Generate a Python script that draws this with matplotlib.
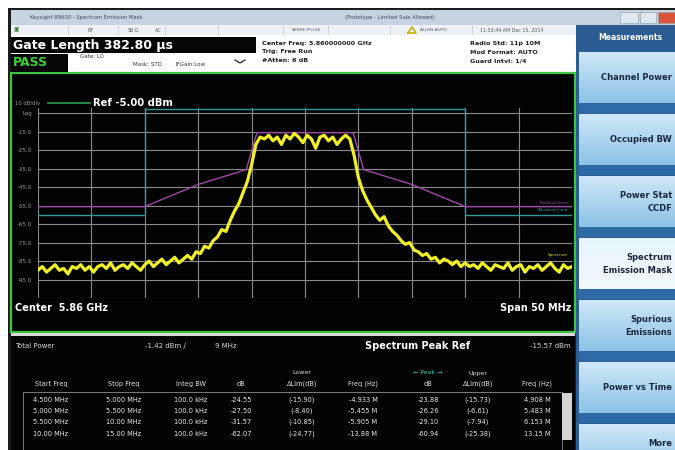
#!/usr/bin/env python3

import matplotlib; matplotlib.use('Agg')
import numpy as np
import matplotlib.pyplot as plt
from matplotlib.patches import Rectangle

# spectrum trace (dBm), one value every 0.4 MHz from -25 MHz to +25 MHz offset
trace_dbm = [
  -90, -88, -91, -89, -87, -90, -89, -92, -88, -89, -87, -90, -88,
  -91, -88, -87, -89, -86, -90, -88, -87, -89, -86, -88, -90, -87,
  -85, -88, -86, -84, -87, -85, -83, -86, -84, -82,
  -84, -80, -81, -77, -78, -74,
  -72, -68, -69, -63, -58,
  -54, -48, -42, -33,
  -22, -18,
  -19, -17, -20, -18, -22, -17, -19, -16, -18, -21,
  -17, -19, -24, -18, -17, -20, -18, -22, -19, -17,
  -19, -28,
  -40, -47, -52, -56,
  -60, -63, -61, -66, -69,
  -71, -74, -76, -75, -79, -80,
  -82, -81, -84, -83, -86, -84, -85, -87, -85, -88,
  -86, -88, -87, -89, -86, -88, -90, -87, -88, -89, -86, -90, -88,
  -87, -91, -88, -89, -87, -90, -88, -86, -89, -91, -87, -89, -88,
]
freq_offset = np.linspace(-25, 25, len(trace_dbm))

# limit lines
rel_freq = [-25, -15, -10, -5.5, -4.5, 4.5, 5.5, 10, 15, 25]
rel_dbm = [-55.6, -55.6, -43.6, -35.6, -15.6, -15.6, -35.6, -43.6, -55.6, -55.6]
abs_freq = [-25, -15, -15, 15, 15, 25]
abs_dbm = [-60, -60, -3, -3, -60, -60]

grid_levels = [-5, -15, -25, -35, -45, -55, -65, -75, -85, -95, -105]
grid_labels = ['Log', '-15.0', '-25.0', '-35.0', '-45.0', '-55.0', '-65.0',
               '-75.0', '-85.0', '-95.0', '']
grid_freqs = [-25, -20, -15, -10, -5, 0, 5, 10, 15, 20, 25]

# result table
start_freq = ['4.500 MHz', '5.000 MHz', '5.500 MHz', '10.00 MHz']
stop_freq = ['5.000 MHz', '5.500 MHz', '10.00 MHz', '15.00 MHz']
integ_bw = ['100.0 kHz', '100.0 kHz', '100.0 kHz', '100.0 kHz']
lower_db = [-24.55, -27.50, -31.57, -62.07]
lower_lim = [-15.90, -8.40, -10.85, -24.77]
lower_freq = ['-4.933 M', '-5.455 M', '-5.905 M', '-13.88 M']
upper_db = [-23.88, -26.26, -29.10, -60.94]
upper_lim = [-15.73, -6.61, -7.94, -25.38]
upper_freq = ['4.908 M', '5.483 M', '6.153 M', '13.15 M']

menu_labels = ['Channel Power', 'Occupied BW', 'Power Stat\nCCDF',
               'Spectrum\nEmission Mask', 'Spurious\nEmissions',
               'Power vs Time', 'More']

W, H = 675, 450
fig = plt.figure(figsize = [6.75, 4.5], dpi = 100)
fig.patch.set_facecolor('white')

# background canvas in pixel coordinates
bg = fig.add_axes([0, 0, 1, 1])
bg.set_xlim(0, W)
bg.set_ylim(H, 0)
bg.axis('off')

def box(x0, y0, x1, y1, fc, ec = 'none', lw = 0, z = 1):
  bg.add_patch(Rectangle((x0, y0), x1 - x0, y1 - y0, facecolor = fc,
                         edgecolor = ec, linewidth = lw, zorder = z))

def txt(x, y, s, size = 5, color = '#e0e0e0', weight = 'normal', ha = 'left', **kw):
  bg.text(x, y, s, fontsize = size, color = color, fontweight = weight,
          ha = ha, va = 'center', zorder = 5, **kw)

# screen frame
box(8, 8, W, H, '#1c1c1c')
# title bar and toolbar
box(11, 10, W, 25, '#c6d3e0')
txt(30, 17.5, 'Keysight 89600 - Spectrum Emission Mask', 3.8, '#3a4a6a')
txt(345, 17.5, '(Prototype - Limited Sale Allowed)', 3.8, '#3a4a6a')
box(620, 12, 638, 23, '#dfe7ef', '#8899aa', 0.4, 2)
box(640, 12, 656, 23, '#dfe7ef', '#8899aa', 0.4, 2)
box(658, 12, W, 23, '#d9543a', '#8899aa', 0.4, 2)
box(11, 25, 576, 35, '#eef2f6')
for xc in [68, 118, 165, 218, 283, 328, 390, 472]:
  bg.plot([xc, xc], [26, 34], color = '#b8c2cc', lw = 0.5, zorder = 2)
txt(14, 30, '\u25a3', 4, '#2a7a2a')
txt(88, 30, 'RF', 3.5, '#556')
txt(128, 30, 'SE:G', 3.5, '#556')
txt(155, 30, 'AC', 3.5, '#556')
txt(292, 30, 'SENSE:PULSE', 3.2, '#556')
bg.plot([408, 412, 416, 408], [33, 27, 33, 33], color = '#c8b000', lw = 1.2, zorder = 3)
txt(420, 30, 'ALIGN AUTO', 3.2, '#556')
txt(480, 30, '11:53:44 AM Dec 15, 2014', 3.4, '#556')

# header
box(11, 35, 576, 73, 'white')
box(11, 37, 256, 53, '#050505', z = 2)
txt(13, 45.5, 'Gate Length 382.80 \u00b5s', 9, 'white', 'bold')
box(11, 54, 68, 72, '#050505', z = 2)
txt(13, 63, 'PASS', 9, '#3ccf3c', 'bold')
txt(80, 57, 'Gate: LO', 4, '#333')
txt(133, 65, 'Mask: STD', 4, '#333')
txt(175, 65, 'IFGain:Low', 4, '#333')
bg.plot([235, 240, 245], [60, 63, 60], color = '#333', lw = 1, zorder = 3)
txt(262, 43, 'Center Freq: 5.860000000 GHz', 4.6, '#222', 'bold')
txt(262, 52, 'Trig: Free Run', 4.6, '#222', 'bold')
txt(262, 61, '#Atten: 6 dB', 4.6, '#222', 'bold')
txt(470, 43, 'Radio Std: 11p 10M', 4.6, '#222', 'bold')
txt(470, 52, 'Mod Format: AUTO', 4.6, '#222', 'bold')
txt(470, 61, 'Guard Intvl: 1/4', 4.6, '#222', 'bold')

# spectrum panel
box(11, 73, 575, 332, '#020202', '#3fc43f', 1.6, 1)
box(11, 333, 575, 336, '#d8d8d8')
txt(15, 103, '10 dB/div', 3.8, '#9a9a9a')
bg.plot([48, 90], [103, 103], color = '#2f9f4f', lw = 1.2, zorder = 3)
txt(93, 103, 'Ref -5.00 dBm', 7.2, 'white', 'bold')
txt(15, 308, 'Center  5.86 GHz', 7, 'white', 'bold')
txt(571, 308, 'Span 50 MHz', 7, 'white', 'bold', ha = 'right')

# result table
box(11, 336, 575, H, '#030303')
txt(15, 346, 'Total Power', 5, '#d8d8d8')
txt(145, 346, '-1.42 dBm /', 5, '#d8d8d8')
txt(215, 346, '9 MHz', 5, '#d8d8d8')
txt(365, 346, 'Spectrum Peak Ref', 7, 'white', 'bold')
txt(530, 346, '-15.57 dBm', 5, '#d8d8d8')
col_x = [51, 124, 191, 241, 302, 363, 428, 478, 537]
txt(302, 373, 'Lower', 4.5, '#d8d8d8', ha = 'center')
txt(428, 373, '\u2190 Peak \u2192', 4.5, '#3fc0c0', ha = 'center')
txt(478, 373, 'Upper', 4.5, '#d8d8d8', ha = 'center')
heads = ['Start Freq', 'Stop Freq', 'Integ BW', 'dB', '\u0394Lim(dB)',
         'Freq (Hz)', 'dB', '\u0394Lim(dB)', 'Freq (Hz)']
for x, h in zip(col_x, heads):
  txt(x, 384, h, 4.8, '#e0e0e0', ha = 'center')
box(23, 392, 562, H + 2, 'none', '#909090', 0.6, 2)
box(562, 393, 572, 440, '#d4d4d4', z = 2)
row_y = [400, 411, 422, 434]
for i, y in enumerate(row_y):
  cells = [start_freq[i], stop_freq[i], integ_bw[i], '%.2f' % lower_db[i],
           '(%.2f)' % lower_lim[i], lower_freq[i], '%.2f' % upper_db[i],
           '(%.2f)' % upper_lim[i], upper_freq[i]]
  for x, c in zip(col_x, cells):
    txt(x, y, c, 4.8, '#e8e8e8', ha = 'center')

# measurement menu
box(576, 25, W, H, '#2b5c92')
txt(598, 38, 'Measurements', 5.5, 'white', 'bold')
grad = np.linspace(0, 1, 50).reshape(-1, 1)
for k, label in enumerate(menu_labels):
  top = 52 + 62 * k
  cmap = plt.matplotlib.colors.LinearSegmentedColormap.from_list(
    'b', ['#e8f4fb', '#f2f8fc'] if k == 3 else ['#cfe8f7', '#8cc2e6'])
  bg.imshow(grad, extent = [579, W, top + 51, top], cmap = cmap,
            aspect = 'auto', zorder = 2)
  box(579, top + 51, W, top + 61, '#2e6aa6', z = 2)
  if top + 26 < H - 6:
    ty = top + 26
  else:
    ty = H - 7
  txt(672, ty, label, 6, '#1a2840', 'bold', ha = 'right',
      multialignment = 'right', linespacing = 1.5)

# spectrum axes: x span 50 MHz, y ref -5 dBm at 10 dB/div
ax = fig.add_axes([38 / W, 1 - 298 / H, 534 / W, (298 - 107.5) / H])
ax.set_facecolor('#020202')
for f in grid_freqs:
  ax.axvline(f, color = '#8a8a8a', lw = 0.8, zorder = 1)
for lv in grid_levels:
  ax.axhline(lv, color = '#8a8a8a', lw = 0.8, zorder = 1)
ax.plot(abs_freq, abs_dbm, color = '#2f9c9c', lw = 1.0, zorder = 2)
ax.plot(rel_freq, rel_dbm, color = '#a04aa8', lw = 1.0, zorder = 2)
ax.plot(freq_offset, trace_dbm, color = '#f2f028', lw = 2.3, zorder = 3)
ax.text(24.6, -54.5, 'Relative Limit', color = '#a04aa8', fontsize = 3, ha = 'right', va = 'bottom')
ax.text(24.6, -56.5, 'Absolute Limit', color = '#2f9c9c', fontsize = 3, ha = 'right', va = 'top')
ax.text(24.6, -83, 'Spectrum', color = '#d8d820', fontsize = 3, ha = 'right', va = 'bottom')
ax.set_xlim(-25, 25)
ax.set_ylim(-105, -2)
ax.set_xticks([])
ax.set_yticks(grid_levels)
ax.set_yticklabels(grid_labels)
ax.tick_params(axis = 'y', length = 0, labelsize = 4, labelcolor = '#9a9a9a', pad = 4)
for s in ax.spines.values():
  s.set_visible(False)

plt.savefig('out.png', dpi = 100)
